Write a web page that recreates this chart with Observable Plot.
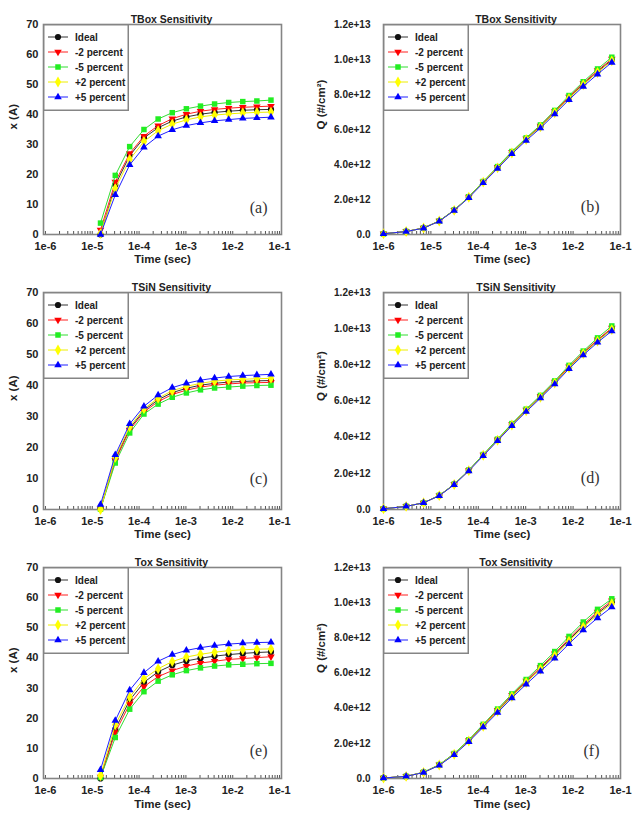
<!DOCTYPE html>
<html>
<head>
<meta charset="utf-8">
<script src="https://cdn.jsdelivr.net/npm/d3@7"></script>
<script src="https://cdn.jsdelivr.net/npm/@observablehq/plot@0.6"></script>
<style>
  body { margin: 0; background: #fff; }
  #fig { position: relative; width: 636px; height: 813px; font-family: "Liberation Sans", Arial, sans-serif; }
  .panel { position: absolute; }
  .panel svg { overflow: visible; }
  .legend { position: absolute; overflow: visible; }
</style>
</head>
<body>
<div id="fig"></div>
<script>
// ---- time grid (s) ----
const timeQ = [1e-6, 3e-6, 7e-6, 1.5e-5, 3.1e-5, 6.3e-5, 1.27e-4, 2.55e-4, 5.11e-4,
               1.023e-3, 2.047e-3, 4.095e-3, 8.191e-3, 1.6383e-2, 3.2767e-2, 6.5535e-2];
const timeX = [1.5e-5, 3.1e-5, 6.3e-5, 1.27e-4, 2.55e-4, 5.11e-4,
               1.023e-3, 2.047e-3, 4.095e-3, 8.191e-3, 1.6383e-2, 3.2767e-2, 6.5535e-2];

// ---- series styling ----
const seriesNames   = ["Ideal", "-2 percent", "-5 percent", "+2 percent", "+5 percent"];
const seriesFill    = ["#111111", "#ff0000", "#22ee22", "#ffff00", "#0000ff"];
const seriesStroke  = ["#333333", "#ff2020", "#33dd33", "#eeee00", "#2020ff"];
const seriesSymbol  = ["circle", "triangle", "square", "diamond", "triangle"];
const seriesRotate  = [0, 180, 0, 0, 0];
const seriesRadius  = [3.1, 2.8, 3.1, 3.3, 2.8];

// ---- axis ticks ----
const xTickValues = [1e-6, 1e-5, 1e-4, 1e-3, 1e-2, 1e-1];
const xTickLabels = ["1e-6", "1e-5", "1e-4", "1e-3", "1e-2", "1e-1"];
const thickTickValues = [0, 10, 20, 30, 40, 50, 60, 70];
const chargeTickValues = [0, 2, 4, 6, 8, 10, 12];            // units of 1e12 #/cm²
const chargeTickLabels = ["0.0", "2.0e+12", "4.0e+12", "6.0e+12", "8.0e+12", "1.0e+13", "1.2e+13"];

// ---- TBox sensitivity: thickness x (A) ----
const tboxX_ideal = [0, 16.5, 26.3, 32.2, 35.6, 37.8, 39.2, 40.1, 40.7, 41.1, 41.4, 41.6, 41.7];
const tboxX_m2    = [1.5, 17.5, 27.0, 32.8, 36.3, 38.6, 40.1, 41.1, 41.7, 42.1, 42.4, 42.6, 42.8];
const tboxX_m5    = [3.8, 19.7, 29.3, 35.0, 38.5, 40.6, 41.9, 42.8, 43.5, 44.0, 44.3, 44.5, 44.8];
const tboxX_p2    = [0.3, 15.3, 25.0, 31.0, 34.6, 36.8, 38.2, 39.2, 39.8, 40.2, 40.5, 40.7, 40.8];
const tboxX_p5    = [0, 13.2, 23.2, 29.1, 32.8, 34.9, 36.3, 37.2, 37.9, 38.3, 38.7, 38.9, 39.1];

// ---- TBox sensitivity: charge Q (1e12 #/cm²) ----
const tboxQ_ideal = [0.04, 0.17, 0.37, 0.77, 1.39, 2.14, 3.00, 3.83, 4.68, 5.45, 6.18, 6.99, 7.82, 8.60, 9.31, 9.97];
const tboxQ_m2    = [0.04, 0.17, 0.37, 0.77, 1.39, 2.15, 3.01, 3.85, 4.70, 5.48, 6.21, 7.03, 7.86, 8.65, 9.37, 10.03];
const tboxQ_m5    = [0.04, 0.17, 0.37, 0.78, 1.40, 2.16, 3.03, 3.88, 4.74, 5.52, 6.26, 7.09, 7.94, 8.73, 9.46, 10.13];
const tboxQ_p2    = [0.04, 0.17, 0.37, 0.77, 1.38, 2.13, 2.99, 3.81, 4.66, 5.43, 6.15, 6.96, 7.78, 8.56, 9.26, 9.92];
const tboxQ_p5    = [0.04, 0.17, 0.36, 0.76, 1.37, 2.10, 2.95, 3.77, 4.61, 5.37, 6.08, 6.88, 7.70, 8.46, 9.16, 9.83];

// ---- TSiN sensitivity: thickness x (A) ----
const tsinX_ideal = [0.3, 16.3, 26.1, 32.0, 35.4, 37.7, 39.1, 40.1, 40.7, 41.1, 41.3, 41.5, 41.6];
const tsinX_m2    = [0.2, 15.8, 25.6, 31.5, 34.8, 37.1, 38.5, 39.5, 40.1, 40.5, 40.8, 40.9, 41.0];
const tsinX_m5    = [0.1, 15.0, 24.7, 30.8, 34.0, 36.2, 37.6, 38.6, 39.2, 39.5, 39.8, 40.0, 40.1];
const tsinX_p2    = [0, 16.8, 26.7, 32.5, 35.9, 38.3, 39.7, 40.7, 41.4, 41.8, 42.0, 42.2, 42.3];
const tsinX_p5    = [1.6, 17.6, 27.6, 33.3, 36.9, 39.3, 40.7, 41.7, 42.4, 42.9, 43.2, 43.4, 43.6];

// ---- TSiN sensitivity: charge Q (1e12 #/cm²) ----
const tsinQ_ideal = [0.04, 0.17, 0.37, 0.77, 1.39, 2.16, 3.01, 3.85, 4.69, 5.48, 6.23, 7.02, 7.87, 8.64, 9.35, 9.99];
const tsinQ_m2    = [0.04, 0.17, 0.37, 0.77, 1.39, 2.16, 3.02, 3.86, 4.71, 5.50, 6.26, 7.05, 7.90, 8.68, 9.39, 10.04];
const tsinQ_m5    = [0.04, 0.17, 0.37, 0.78, 1.40, 2.18, 3.04, 3.89, 4.75, 5.55, 6.31, 7.11, 7.97, 8.76, 9.49, 10.15];
const tsinQ_p2    = [0.04, 0.17, 0.37, 0.77, 1.38, 2.15, 3.00, 3.83, 4.67, 5.46, 6.21, 6.99, 7.84, 8.61, 9.31, 9.95];
const tsinQ_p5    = [0.04, 0.17, 0.37, 0.76, 1.37, 2.13, 2.97, 3.80, 4.63, 5.41, 6.16, 6.94, 7.78, 8.54, 9.24, 9.87];

// ---- Tox sensitivity: thickness x (A) ----
const toxX_ideal = [0, 16.3, 26.0, 31.9, 35.4, 37.6, 39.0, 39.9, 40.6, 41.1, 41.5, 41.8, 42.0];
const toxX_m2    = [0.5, 15.3, 24.7, 30.5, 33.8, 35.8, 37.3, 38.3, 38.9, 39.5, 39.8, 40.1, 40.4];
const toxX_m5    = [0.3, 13.6, 23.0, 28.8, 32.3, 34.4, 35.8, 36.7, 37.3, 37.7, 37.9, 38.1, 38.2];
const toxX_p2    = [1.0, 17.8, 27.0, 33.1, 36.4, 38.8, 40.3, 41.2, 41.9, 42.4, 42.7, 42.9, 43.0];
const toxX_p5    = [2.9, 19.2, 29.3, 35.1, 38.9, 41.1, 42.5, 43.4, 44.1, 44.6, 44.9, 45.1, 45.2];

// ---- Tox sensitivity: charge Q (1e12 #/cm²) ----
const toxQ_ideal = [0.03, 0.12, 0.35, 0.77, 1.39, 2.15, 3.00, 3.85, 4.70, 5.50, 6.26, 7.03, 7.88, 8.68, 9.39, 10.02];
const toxQ_m2    = [0.03, 0.12, 0.35, 0.78, 1.40, 2.17, 3.03, 3.89, 4.74, 5.55, 6.32, 7.10, 7.96, 8.76, 9.48, 10.11];
const toxQ_m5    = [0.03, 0.12, 0.36, 0.79, 1.42, 2.20, 3.08, 3.95, 4.81, 5.63, 6.42, 7.22, 8.08, 8.90, 9.62, 10.22];
const toxQ_p2    = [0.03, 0.12, 0.35, 0.77, 1.38, 2.13, 2.97, 3.82, 4.66, 5.46, 6.21, 6.97, 7.81, 8.60, 9.31, 9.94];
const toxQ_p5    = [0.03, 0.12, 0.34, 0.75, 1.35, 2.09, 2.92, 3.75, 4.58, 5.36, 6.10, 6.84, 7.66, 8.44, 9.13, 9.75];

// ---- layout of the 3x2 grid ----
const colLeft = [0, 318];
const rows = [
  {top: 0,   height: 270, marginTop: 24, marginBottom: 36, labelDy: 28},
  {top: 270, height: 276, marginTop: 22, marginBottom: 37, labelDy: 28},
  {top: 546, height: 267, marginTop: 21, marginBottom: 35, labelDy: 29}
];
const cols = [
  {marginLeft: 43, marginRight: 37, yLabelDx: -30, titleDx: 9,  letterDx: -14, yPad: 5,
   xDomain: [1e-6 / 1.1, 1e-1 * 1.1]},
  {marginLeft: 65, marginRight: 16, yLabelDx: -62, titleDx: 14, letterDx: -21, yPad: 13,
   xDomain: [1e-6, 1e-1]}
];

const panels = [
  {row: 0, col: 0, kind: "x", title: "TBox Sensitivity", letter: "(a)", letterDy: -22,
   series: [tboxX_ideal, tboxX_m2, tboxX_m5, tboxX_p2, tboxX_p5]},
  {row: 0, col: 1, kind: "q", title: "TBox Sensitivity", letter: "(b)", letterDy: -23,
   series: [tboxQ_ideal, tboxQ_m2, tboxQ_m5, tboxQ_p2, tboxQ_p5]},
  {row: 1, col: 0, kind: "x", title: "TSiN Sensitivity", letter: "(c)", letterDy: -26,
   series: [tsinX_ideal, tsinX_m2, tsinX_m5, tsinX_p2, tsinX_p5]},
  {row: 1, col: 1, kind: "q", title: "TSiN Sensitivity", letter: "(d)", letterDy: -27,
   series: [tsinQ_ideal, tsinQ_m2, tsinQ_m5, tsinQ_p2, tsinQ_p5]},
  {row: 2, col: 0, kind: "x", title: "Tox Sensitivity", letter: "(e)", letterDy: -23,
   series: [toxX_ideal, toxX_m2, toxX_m5, toxX_p2, toxX_p5]},
  {row: 2, col: 1, kind: "q", title: "Tox Sensitivity", letter: "(f)", letterDy: -23,
   series: [toxQ_ideal, toxQ_m2, toxQ_m5, toxQ_p2, toxQ_p5]}
];

const fig = document.getElementById("fig");
const W = 318;
const frameColor = "#858585";
const textColor = "#222";
const font = "'Liberation Sans', Arial, sans-serif";

// log minor ticks (1..9 per decade) drawn inward along the bottom edge
const minorTicks = d3.scaleLog().domain([1e-6, 1e-1]).ticks();
const minorTickLength = 3;

function fmtFromLists(values, labels) {
  return d => {
    const i = values.findIndex(v => Math.abs(v - d) <= Math.abs(v) * 1e-9 + 1e-12);
    return i >= 0 ? labels[i] : "";
  };
}

function drawLegend(left, top) {
  const w = 86, h = 87;
  const svg = d3.create("svg")
    .attr("class", "legend")
    .attr("width", w).attr("height", h)
    .style("left", left + "px").style("top", top + "px");
  svg.append("rect").attr("x", 0.75).attr("y", 0.75)
    .attr("width", w - 1.5).attr("height", h - 1.5)
    .attr("fill", "#fff").attr("stroke", frameColor).attr("stroke-width", 1.5);
  seriesNames.forEach((name, k) => {
    const y = 13 + 15 * k;
    svg.append("line").attr("x1", 5).attr("x2", 25).attr("y1", y).attr("y2", y)
      .attr("stroke", seriesStroke[k]).attr("stroke-width", 1);
    const symType = {circle: d3.symbolCircle, triangle: d3.symbolTriangle, square: d3.symbolSquare, diamond: d3.symbolDiamond}[seriesSymbol[k]];
    const r = seriesRadius[k];
    svg.append("path")
      .attr("d", d3.symbol(symType, r * r * Math.PI)())
      .attr("transform", `translate(15,${y}) rotate(${seriesRotate[k]})`)
      .attr("fill", seriesFill[k]);
    svg.append("text").attr("x", 32).attr("y", y).attr("dy", "0.35em")
      .attr("font-family", font).attr("font-weight", "bold").attr("font-size", 10)
      .attr("fill", textColor).text(name);
  });
  fig.appendChild(svg.node());
}

for (const p of panels) {
  const R = rows[p.row], C = cols[p.col];
  const times = p.kind === "x" ? timeX : timeQ;
  const data = p.series.map((vals, k) => vals.map((v, i) => ({t: times[i], v, k})));
  const isQ = p.kind === "q";
  const frameH = R.height - R.marginTop - R.marginBottom;

  const marks = [
    Plot.tickX(minorTicks, {x: d => d, insetTop: frameH - minorTickLength, stroke: "#555", strokeWidth: 1}),
    Plot.frame({stroke: frameColor, strokeWidth: 1.6}),
    Plot.axisX({ticks: xTickValues, tickSize: 0, tickPadding: 8, label: null,
                tickFormat: fmtFromLists(xTickValues, xTickLabels),
                fontSize: 11, fontWeight: "bold", fill: textColor}),
    isQ
      ? Plot.axisY({ticks: chargeTickValues, tickSize: 0, tickPadding: C.yPad, label: null,
                    tickFormat: fmtFromLists(chargeTickValues, chargeTickLabels),
                    fontSize: 10, fontWeight: "bold", fill: textColor})
      : Plot.axisY({ticks: thickTickValues, tickSize: 0, tickPadding: C.yPad, label: null,
                    fontSize: 11, fontWeight: "bold", fill: textColor})
  ];

  data.forEach((rowsK, k) => {
    marks.push(Plot.line(rowsK, {x: "t", y: "v", stroke: seriesStroke[k], strokeWidth: 1}));
    marks.push(Plot.dot(rowsK, {x: "t", y: "v", symbol: seriesSymbol[k], rotate: seriesRotate[k],
                                fill: seriesFill[k], stroke: null, r: seriesRadius[k]}));
  });

  marks.push(Plot.text([p.title], {frameAnchor: "top", dx: C.titleDx, dy: -9,
    fontWeight: "bold", fontSize: 10.5, fill: textColor}));
  marks.push(Plot.text(["Time (sec)"], {frameAnchor: "bottom", dy: R.labelDy,
    fontWeight: "bold", fontSize: 11.5, fill: textColor}));
  marks.push(Plot.text([isQ ? "Q (#/cm²)" : "x (A)"], {frameAnchor: "left", dx: C.yLabelDx, rotate: -90,
    fontWeight: "bold", fontSize: 11.5, fill: textColor}));
  marks.push(Plot.text([p.letter], {frameAnchor: "bottom-right", dx: C.letterDx, dy: p.letterDy,
    textAnchor: "end", fontFamily: "'Liberation Serif', 'Times New Roman', serif",
    fontSize: 16, fill: "#333"}));

  const chart = Plot.plot({
    width: W, height: R.height,
    marginTop: R.marginTop, marginBottom: R.marginBottom,
    marginLeft: C.marginLeft, marginRight: C.marginRight,
    style: {background: "transparent", fontFamily: font, overflow: "visible"},
    x: {type: "log", domain: C.xDomain},
    y: {domain: isQ ? [0, 12] : [0, 70]},
    marks
  });

  const holder = document.createElement("div");
  holder.className = "panel";
  holder.style.left = colLeft[p.col] + "px";
  holder.style.top = R.top + "px";
  holder.appendChild(chart);
  fig.appendChild(holder);

  drawLegend(colLeft[p.col] + C.marginLeft, R.top + R.marginTop);
}
</script>
</body>
</html>
